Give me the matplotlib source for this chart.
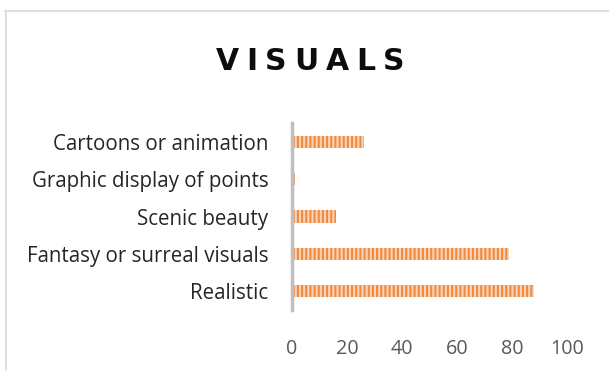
import matplotlib
matplotlib.use("Agg")
import matplotlib.pyplot as plt
from matplotlib.lines import Line2D

categories = ["Realistic", "Fantasy or surreal visuals", "Scenic beauty",
              "Graphic display of points", "Cartoons or animation"]
values = [88, 79, 16, 1, 26]
xticks = [0, 20, 40, 60, 80, 100]
title = "VISUALS"

plt.rcParams['font.family'] = ['Open Sans', 'DejaVu Sans']
plt.rcParams['hatch.linewidth'] = 1.5

W, H = 609, 371
fig = plt.figure(figsize=(W / 100, H / 100), dpi=100)
ax = fig.add_axes([292 / W, 1 - 310 / H, 275 / W, 187 / H])

ax.barh(range(len(categories)), values, height=0.33,
        color='#FAD3B8', edgecolor='#F08A3E', hatch='||||', linewidth=0)
ax.set_xlim(0, 100)
ax.set_ylim(-0.5, len(categories) - 0.5)
ax.set_yticks(range(len(categories)))
ax.set_yticklabels(categories, fontsize=14.8, color='#262626')
ax.set_xticks(xticks)
ax.set_xticklabels([str(t) for t in xticks], fontsize=14.2, color='#595959')
ax.tick_params(axis='both', length=0)
ax.tick_params(axis='x', pad=21)
ax.tick_params(axis='y', pad=17)
for s in ['top', 'right', 'bottom']:
    ax.spines[s].set_visible(False)
ax.spines['left'].set_color('#BFBFBF')
ax.spines['left'].set_linewidth(2.5)

# letter-spaced bold title, target span ~186 px
renderer = fig.canvas.get_renderer()
tsize = 21.5
tfam = ['DejaVu Sans']
tmp = [fig.text(0, 0, ch, fontsize=tsize, fontweight='bold', family=tfam) for ch in title]
widths = [t.get_window_extent(renderer).width for t in tmp]
for t in tmp:
    t.remove()
target = 188
spacing = max(0.0, (target - sum(widths)) / (len(title) - 1))
total = sum(widths) + spacing * (len(title) - 1)
x = 310 - total / 2
for ch, w in zip(title, widths):
    fig.text(x / W, 1 - 70.5 / H, ch, fontsize=tsize, fontweight='bold', family=tfam,
             color='#0D0D0D', ha='left', va='baseline')
    x += w + spacing

# outer chart-area border (top and left visible)
fig.add_artist(Line2D([5 / W, 1.0], [1 - 10.5 / H, 1 - 10.5 / H], color='#D9D9D9', lw=1.2))
fig.add_artist(Line2D([5.5 / W, 5.5 / W], [0, 1 - 10.5 / H], color='#D9D9D9', lw=1.2))

fig.savefig("out.png", dpi=100)
